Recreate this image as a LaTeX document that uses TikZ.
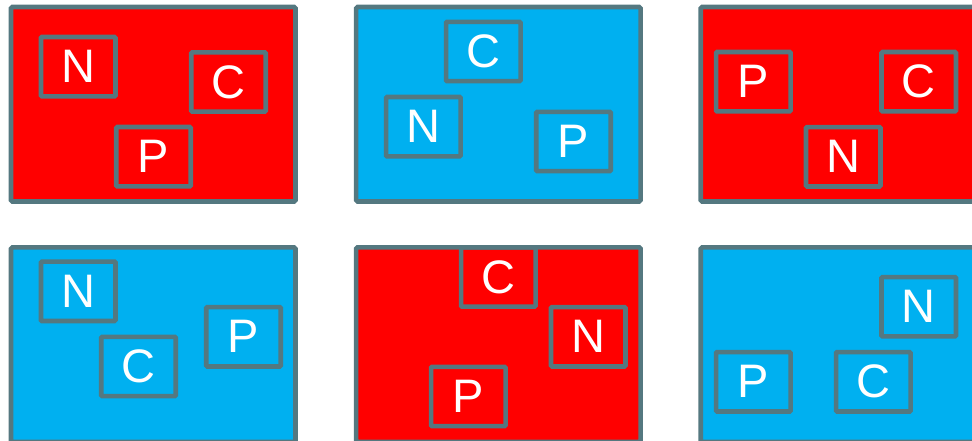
\documentclass[tikz,border=0pt]{standalone}
\usepackage{fontspec}
\setmainfont{Liberation Sans}
\definecolor{cred}{RGB}{255,0,0}
\definecolor{cblue}{RGB}{0,176,240}
\definecolor{cedge}{RGB}{84,120,128}
\tikzset{
  panel/.style={draw=cedge, line width=4.6pt, rounded corners=1.5pt, minimum width=284.5pt, minimum height=194.5pt, inner sep=0pt, outer sep=0pt},
  redpanel/.style={panel, fill=cred},
  bluepanel/.style={panel, fill=cblue},
  letterbox/.style={draw=cedge, line width=4.6pt, rounded corners=1pt, minimum width=74.5pt, minimum height=59.3pt, inner sep=0pt, text=white, font=\fontsize{47}{47}\selectfont},
}
\begin{document}
\begin{tikzpicture}[x=1pt,y=-1pt]
\useasboundingbox (0,0) rectangle (972,441);
\clip (0,0) rectangle (972,441);
% row 1
\node[redpanel] (p1) at (153.25,104.25) {};
\node[letterbox] (p1n) at (78.2,66.7) {N};
\node[letterbox] (p1c) at (228.5,82) {C};
\node[letterbox] (p1p) at (153.5,156.7) {P};

\node[bluepanel] (p2) at (498.35,104.25) {};
\node[letterbox] (p2c) at (483.3,51.5) {C};
\node[letterbox] (p2n) at (423.3,126.7) {N};
\node[letterbox] (p2p) at (573.5,141.5) {P};

\node[redpanel] (p3) at (842.95,104.25) {};
\node[letterbox] (p3p) at (753.3,81.7) {P};
\node[letterbox] (p3c) at (918.7,81.7) {C};
\node[letterbox] (p3n) at (843.2,156.8) {N};
% row 2
\node[bluepanel] (p4) at (153.25,344.55) {};
\node[letterbox] (p4n) at (78.2,291.3) {N};
\node[letterbox] (p4c) at (138.5,366.5) {C};
\node[letterbox] (p4p) at (243.5,336.8) {P};

\node[redpanel] (p5) at (498.35,344.55) {};
\node[letterbox] (p5c) at (498.3,277) {C};
\node[letterbox] (p5n) at (588.2,336.8) {N};
\node[letterbox] (p5p) at (468.3,396.5) {P};

\node[bluepanel] (p6) at (842.95,344.55) {};
\node[letterbox] (p6n) at (918.7,306.7) {N};
\node[letterbox] (p6p) at (753.3,381.8) {P};
\node[letterbox] (p6c) at (873.3,381.8) {C};
\end{tikzpicture}
\end{document}
